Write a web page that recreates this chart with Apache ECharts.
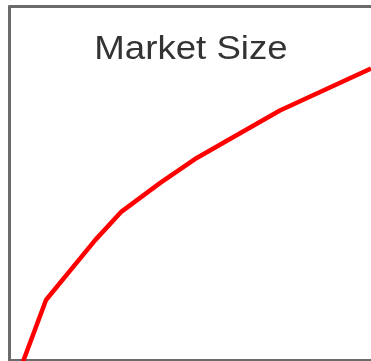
<!DOCTYPE html>
<html>
<head>
<meta charset="utf-8">
<style>
  html, body { margin: 0; padding: 0; background: #ffffff; }
  #chart { width: 371px; height: 361px; }
</style>
<script src="https://cdn.jsdelivr.net/npm/echarts@6/dist/echarts.min.js"></script>
</head>
<body>
<div id="chart"></div>
<script>
// Market size curve (x in period units, y in index units)
const periods = [0.35, 1.01, 2.37, 3.08, 4.16, 5.13, 7.48, 10.0];
const marketSize = [-1, 17.1, 34.0, 41.9, 50.1, 56.9, 70.6, 82.5];
const titleText = 'Market Size';

const frameColor = '#6b6b6b';
const frameLine = { show: true, onZero: false, lineStyle: { color: frameColor, width: 3 } };

const chart = echarts.init(document.getElementById('chart'), null, { renderer: 'canvas' });

chart.setOption({
  animation: false,
  backgroundColor: '#ffffff',
  graphic: [{
    type: 'text',
    x: 191,
    y: 50,
    scaleX: 1.11,
    scaleY: 1,
    style: {
      text: titleText,
      font: '33px "Liberation Sans"',
      fill: '#333333',
      align: 'center',
      verticalAlign: 'middle'
    },
    z: 10
  }],
  grid: {
    left: 9.5,
    top: 6.5,
    right: 0,
    bottom: 0.5
  },
  xAxis: [{
    type: 'value',
    min: 0,
    max: 10,
    position: 'bottom',
    axisLine: frameLine,
    axisTick: { show: false },
    axisLabel: { show: false },
    splitLine: { show: false }
  }, {
    type: 'value',
    min: 0,
    max: 10,
    position: 'top',
    axisLine: frameLine,
    axisTick: { show: false },
    axisLabel: { show: false },
    splitLine: { show: false }
  }],
  yAxis: {
    type: 'value',
    min: 0,
    max: 100,
    axisLine: frameLine,
    axisTick: { show: false },
    axisLabel: { show: false },
    splitLine: { show: false }
  },
  series: [{
    type: 'line',
    xAxisIndex: 0,
    data: periods.map((p, i) => [p, marketSize[i]]),
    symbol: 'none',
    clip: true,
    lineStyle: { color: '#ff0000', width: 4.5 }
  }]
});
</script>
</body>
</html>
